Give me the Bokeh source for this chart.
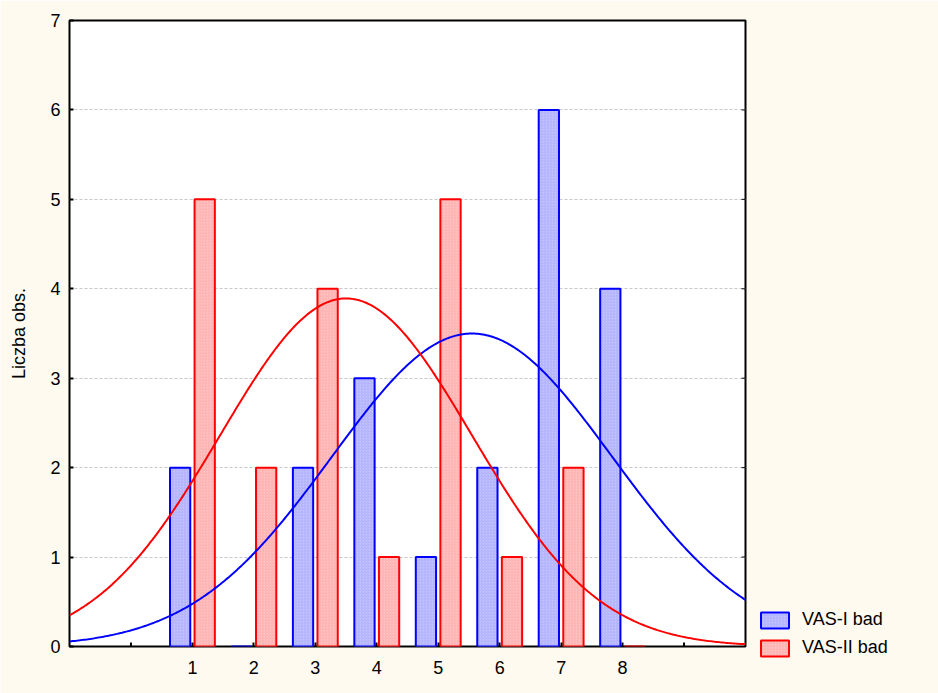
import numpy as np
from bokeh.plotting import figure
from bokeh.models import (Range1d, FixedTicker, Legend, LegendItem,
                          ColumnDataSource)
from bokeh.embed import file_html
from bokeh.resources import INLINE

# ---- data ----
categories = [1, 2, 3, 4, 5, 6, 7, 8]
vas1_counts = [2, 0, 2, 3, 1, 2, 6, 4]
vas2_counts = [5, 2, 4, 1, 5, 1, 2, 0]
series_names = ["VAS-I bad", "VAS-II bad"]
# fitted normal curve parameters (mean, sd, n)
vas1_fit = (5.55, 2.28, 20)
vas2_fit = (3.5, 2.05, 20)
y_ticks = [0, 1, 2, 3, 4, 5, 6, 7]
x_extra_ticks = [0, 9]          # unlabeled ticks on the x axis
right_ticks = [1, 2, 3, 4, 5, 6]  # tick marks on the right frame

BG = "#FFFAEF"
FONT = "Liberation Sans"

p = figure(frame_width=676, frame_height=626, output_backend="svg", toolbar_location=None,
           x_range=Range1d(-1, 10), y_range=Range1d(0, 7),
           min_border_left=69, min_border_right=193, min_border_top=20,
           min_border_bottom=47)
p.background_fill_color = "white"
p.border_fill_color = BG
p.outline_line_color = "black"
p.outline_line_width = 2

xs = np.array(categories, dtype=float)
src1 = ColumnDataSource(dict(x=xs - 0.2, top=vas1_counts))
src2 = ColumnDataSource(dict(x=xs + 0.2, top=vas2_counts))

b1 = p.vbar(x="x", top="top", width=0.33, source=src1,
            fill_color="#C6C6FF", line_color="#0000FF", line_width=2,
            hatch_pattern="right_diagonal_line", hatch_color="#0000FF",
            hatch_alpha=0.12, hatch_scale=3, hatch_weight=1)
b2 = p.vbar(x="x", top="top", width=0.33, source=src2,
            fill_color="#FFC6C6", line_color="#FF0000", line_width=2,
            hatch_pattern="right_diagonal_line", hatch_color="#FF0000",
            hatch_alpha=0.12, hatch_scale=3, hatch_weight=1)

xc = np.linspace(-1, 10, 400)
def normal_curve(params):
    m, s, n = params
    return n * np.exp(-0.5 * ((xc - m) / s) ** 2) / (s * np.sqrt(2 * np.pi))

p.line(xc, normal_curve(vas1_fit), line_color="#0000FF", line_width=2)
p.line(xc, normal_curve(vas2_fit), line_color="#FF0000", line_width=2)

# extra tick marks (inward) drawn as short screen-length rays
p.ray(x=x_extra_ticks, y=[0] * len(x_extra_ticks), length=4, length_units="screen",
      angle=np.pi / 2, line_color="black", line_width=2)
p.ray(x=[10] * len(right_ticks), y=right_ticks, length=4, length_units="screen",
      angle=np.pi, line_color="black", line_width=1)

# axes
p.xaxis.ticker = FixedTicker(ticks=categories)
p.yaxis.ticker = FixedTicker(ticks=y_ticks)
for ax in (p.xaxis[0], p.yaxis[0]):
    ax.major_tick_in = 4
    ax.major_tick_out = 0
    ax.minor_tick_line_color = None
    ax.axis_line_color = None
    ax.major_tick_line_color = "black"
    ax.major_tick_line_width = 2
    ax.major_label_text_font = FONT
    ax.major_label_text_font_size = "18px"
    ax.major_label_text_color = "black"
p.xaxis.major_label_standoff = 14
p.yaxis.major_label_standoff = 9
p.yaxis.axis_label = "Liczba obs."
p.yaxis.axis_label_text_font = FONT
p.yaxis.axis_label_text_font_size = "18px"
p.yaxis.axis_label_text_font_style = "normal"
p.yaxis.axis_label_text_color = "black"
p.yaxis.axis_label_standoff = 18

p.xgrid.grid_line_color = None
p.ygrid.grid_line_color = "#C8C8C8"
p.ygrid.grid_line_dash = "3 2"
p.ygrid.grid_line_width = 1

legend = Legend(items=[LegendItem(label=series_names[0], renderers=[b1]),
                       LegendItem(label=series_names[1], renderers=[b2])],
                location=(12, -12), orientation="vertical")
legend.background_fill_alpha = 0
legend.border_line_color = None
legend.label_text_font = FONT
legend.label_text_font_size = "18px"
legend.label_text_color = "black"
legend.glyph_width = 35
legend.glyph_height = 20
legend.spacing = 7
legend.padding = 0
legend.margin = 0
legend.label_standoff = 10
p.add_layout(legend, "right")

open("out.html", "w").write(file_html(p, INLINE))
